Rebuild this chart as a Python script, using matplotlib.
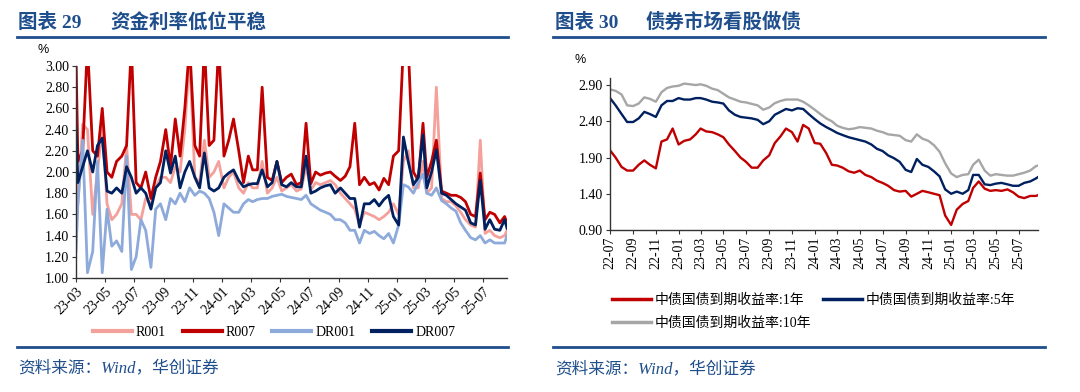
import numpy as np
import pandas as pd
import matplotlib
matplotlib.use("Agg")
import matplotlib.pyplot as plt
import matplotlib.dates as mdates
from matplotlib.lines import Line2D

# ---------------- left chart: money market rates ----------------
left_dates = ["2023-03-01"]
for ym in pd.period_range("2023-03", "2025-07", freq="M"):
    for d in (5, 15, 25):
        left_dates.append(f"{ym}-{d:02d}")
left_dates += ["2025-08-05", "2025-08-15", "2025-08-20"]
left_dates = pd.to_datetime(left_dates)

r007 = [3.10,
        2.10, 2.20, 3.20, 2.20, 2.15, 2.60, 2.00, 1.95, 2.10, 2.15, 2.25, 3.20,
        1.90, 1.85, 2.00, 1.75, 1.95, 2.10, 2.40, 2.05, 2.50, 2.15, 2.60, 3.20,
        2.25, 2.15, 3.20, 2.25, 2.30, 3.20, 2.15, 2.30, 2.50, 2.20, 1.90, 2.15,
        2.02, 2.02, 2.80, 1.95, 1.92, 2.10, 1.90, 1.95, 1.98, 1.88, 1.90, 2.46,
        1.89, 2.00, 1.97, 1.99, 2.00, 1.96, 1.92, 1.96, 2.05, 2.46, 1.88, 1.95,
        1.88, 1.90, 1.83, 1.94, 1.88, 2.15, 2.20, 3.20, 3.20, 2.00, 1.92, 2.46,
        1.95, 2.10, 2.30, 1.82, 1.80, 1.78, 1.78, 1.76, 1.72, 1.60, 1.58, 1.99,
        1.55, 1.62, 1.60, 1.52, 1.58, 1.52]
r001 = [2.00,
        1.70, 2.45, 2.40, 1.60, 2.00, 2.45, 1.70, 1.55, 1.60, 1.70, 2.25, 1.60,
        1.60, 1.55, 1.75, 1.70, 1.85, 1.95, 1.95, 1.90, 2.05, 2.00, 2.40, 3.10,
        1.95, 1.90, 2.30, 1.95, 2.00, 2.10, 1.85, 1.95, 2.00, 1.85, 1.80, 1.90,
        1.85, 1.85, 2.10, 1.80, 1.85, 1.95, 1.82, 1.85, 1.88, 1.82, 1.84, 2.05,
        1.83, 1.90, 1.88, 1.90, 1.92, 1.88, 1.80, 1.75, 1.70, 1.65, 1.50, 1.62,
        1.60, 1.58, 1.55, 1.58, 1.62, 1.70, 1.60, 2.10, 2.20, 1.85, 1.85, 2.10,
        1.80, 1.85, 2.80, 1.75, 1.72, 1.72, 1.68, 1.62, 1.55, 1.50, 1.48, 2.30,
        1.42, 1.45, 1.40, 1.38, 1.40, 1.45]
dr001 = [1.25,
         1.70, 2.30, 1.05, 1.25, 2.10, 1.05, 1.65, 1.30, 1.35, 1.25, 2.15, 1.08,
         1.20, 1.55, 1.45, 1.10, 1.65, 1.70, 1.55, 1.75, 1.70, 1.80, 1.72, 1.85,
         1.78, 1.82, 1.80, 1.75, 1.62, 1.40, 1.70, 1.66, 1.62, 1.62, 1.70, 1.74,
         1.72, 1.74, 1.75, 1.75, 1.77, 1.78, 1.79, 1.77, 1.76, 1.75, 1.74, 1.78,
         1.70, 1.67, 1.64, 1.62, 1.60, 1.55, 1.55, 1.52, 1.45, 1.45, 1.33, 1.45,
         1.42, 1.44, 1.40, 1.37, 1.42, 1.33, 1.50, 1.88, 1.86, 1.80, 1.90, 1.98,
         1.80, 1.78, 1.85, 1.73, 1.70, 1.66, 1.63, 1.52, 1.45, 1.38, 1.36, 1.40,
         1.33, 1.36, 1.33, 1.33, 1.33, 1.40]
dr007 = [2.42,
         1.90, 2.05, 2.20, 2.00, 2.25, 2.32, 1.82, 1.80, 1.85, 1.80, 2.05, 1.95,
         1.80, 1.85, 1.80, 1.65, 1.85, 1.90, 2.20, 1.99, 2.15, 1.85, 2.00, 2.10,
         1.95, 1.85, 2.18, 1.85, 1.82, 1.85, 1.95, 1.99, 2.02, 1.92, 1.86, 1.88,
         1.89, 1.89, 2.02, 1.86, 1.90, 2.10, 1.88, 1.86, 1.90, 1.86, 1.86, 2.15,
         1.80, 1.82, 1.85, 1.87, 1.88, 1.80, 1.85, 1.80, 1.75, 1.75, 1.48, 1.70,
         1.70, 1.74, 1.68, 1.74, 1.78, 1.58, 1.50, 2.33, 2.10, 1.88, 1.95, 2.35,
         1.85, 2.00, 2.21, 1.80, 1.78, 1.74, 1.70, 1.67, 1.64, 1.52, 1.50, 1.92,
         1.46, 1.55, 1.46, 1.45, 1.55, 1.47]

# ---------------- right chart: treasury yields ----------------
right_dates = []
for ym in pd.period_range("2022-07", "2025-08", freq="M"):
    for d in (1, 16):
        right_dates.append(f"{ym}-{d:02d}")
right_dates.append("2025-08-22")
right_dates = pd.to_datetime(right_dates)

y1 = [2.00, 1.90, 1.77, 1.72, 1.72, 1.80, 1.86, 1.80, 1.75, 2.12,
      2.15, 2.30, 2.08, 2.13, 2.15, 2.22, 2.30, 2.26, 2.25, 2.22,
      2.18, 2.08, 1.99, 1.90, 1.84, 1.76, 1.76, 1.86, 1.93, 2.10,
      2.19, 2.30, 2.25, 2.12, 2.35, 2.30, 2.10, 2.09, 1.96, 1.80,
      1.79, 1.76, 1.71, 1.69, 1.72, 1.66, 1.63, 1.58, 1.55, 1.51,
      1.45, 1.43, 1.44, 1.36, 1.40, 1.44, 1.42, 1.40, 1.38, 1.10,
      0.97, 1.18, 1.26, 1.30, 1.48, 1.57, 1.47, 1.44, 1.45, 1.44,
      1.46, 1.42, 1.36, 1.34, 1.37, 1.37, 1.38]
y5 = [2.72, 2.62, 2.50, 2.39, 2.39, 2.44, 2.53, 2.50, 2.46, 2.62,
      2.68, 2.68, 2.72, 2.70, 2.70, 2.72, 2.72, 2.70, 2.67, 2.66,
      2.645, 2.55, 2.49, 2.46, 2.45, 2.44, 2.42, 2.36, 2.40, 2.49,
      2.53, 2.57, 2.55, 2.58, 2.57, 2.50, 2.43, 2.37, 2.32, 2.28,
      2.24, 2.21, 2.18, 2.16, 2.14, 2.12, 2.08, 2.02, 1.99, 1.93,
      1.89, 1.84, 1.73, 1.70, 1.88, 1.80, 1.77, 1.71, 1.64, 1.46,
      1.40, 1.43, 1.40, 1.45, 1.66, 1.66, 1.53, 1.52, 1.54, 1.55,
      1.53, 1.51, 1.51, 1.55, 1.57, 1.61, 1.63]
y10 = [2.84, 2.82, 2.77, 2.62, 2.61, 2.645, 2.73, 2.71, 2.67, 2.80,
       2.86, 2.88, 2.89, 2.92, 2.91, 2.90, 2.91, 2.89, 2.85, 2.83,
       2.78, 2.73, 2.70, 2.67, 2.66, 2.64, 2.62, 2.56, 2.59, 2.65,
       2.68, 2.70, 2.70, 2.70, 2.67, 2.62, 2.56, 2.50, 2.44, 2.40,
       2.34, 2.31, 2.29, 2.30, 2.32, 2.31, 2.30, 2.27, 2.25, 2.22,
       2.21, 2.20, 2.14, 2.12, 2.22, 2.16, 2.13, 2.07, 1.98, 1.82,
       1.68, 1.63, 1.66, 1.67, 1.80, 1.87, 1.72, 1.65, 1.67, 1.66,
       1.65, 1.65, 1.67, 1.69, 1.72, 1.78, 1.79]

left_labels = ["R001", "R007", "DR001", "DR007"]
right_labels = ["中债国债到期收益率:1年", "中债国债到期收益率:5年", "中债国债到期收益率:10年"]

BLUE = "#1F4E8C"
SERIF = ["Liberation Serif", "Noto Sans CJK SC"]
CJK = ["Noto Sans CJK SC", "DejaVu Sans"]

fig = plt.figure(figsize=(10.8, 3.92), dpi=100)

# ---- left axes
ax1 = fig.add_axes([76 / 1080, 1 - 278 / 392, 431 / 1080, 212 / 392])
ax1.plot(left_dates, r001, color="#F4A19C", lw=2.0, label=left_labels[0])
ax1.plot(left_dates, r007, color="#C00000", lw=2.0, label=left_labels[1])
ax1.plot(left_dates, dr001, color="#8EAADB", lw=2.0, label=left_labels[2])
ax1.plot(left_dates, dr007, color="#002060", lw=2.0, label=left_labels[3])
ax1.set_ylim(1.0, 3.0)
ax1.set_yticks(np.arange(1.0, 3.01, 0.2))
ax1.yaxis.set_major_formatter(matplotlib.ticker.FormatStrFormatter("%.2f"))
ax1.set_xlim(pd.Timestamp("2023-03-01"), pd.Timestamp("2025-08-20"))
ax1.set_xticks(pd.date_range("2023-03-01", "2025-07-01", freq="2MS"))
ax1.xaxis.set_major_formatter(mdates.DateFormatter("%y-%m"))
for lab in ax1.get_xticklabels():
    lab.set_rotation(45)
    lab.set_ha("right")
    lab.set_va("top")
    lab.set_rotation_mode("anchor")

# ---- right axes
ax2 = fig.add_axes([610 / 1080, 1 - 230 / 392, 428 / 1080, 152.2 / 392])
l1, = ax2.plot(right_dates, y1, color="#C00000", lw=1.7, label=right_labels[0])
l5, = ax2.plot(right_dates, y5, color="#002060", lw=1.7, label=right_labels[1])
l10, = ax2.plot(right_dates, y10, color="#A6A6A6", lw=1.7, label=right_labels[2])
ax2.set_ylim(0.9, 3.0)
ax2.set_yticks([0.9, 1.4, 1.9, 2.4, 2.9])
ax2.yaxis.set_major_formatter(matplotlib.ticker.FormatStrFormatter("%.2f"))
ax2.set_xlim(pd.Timestamp("2022-07-01"), pd.Timestamp("2025-08-22"))
ax2.set_xticks(pd.date_range("2022-07-01", "2025-07-01", freq="2MS"))
ax2.xaxis.set_major_formatter(mdates.DateFormatter("%y-%m"))
for lab in ax2.get_xticklabels():
    lab.set_rotation(90)
    lab.set_ha("center")
    lab.set_va("top")

for ax in (ax1, ax2):
    for s in ("top", "right"):
        ax.spines[s].set_visible(False)
    for s in ("left", "bottom"):
        ax.spines[s].set_color("#333333")
        ax.spines[s].set_linewidth(1.0)
    ax.tick_params(direction="out", length=3, width=0.8, color="#333333",
                   labelsize=10, pad=2)
    for lab in ax.get_xticklabels() + ax.get_yticklabels():
        lab.set_family("Liberation Serif")

# ---- legends
leg1 = fig.legend(*ax1.get_legend_handles_labels(), loc="center",
                  bbox_to_anchor=(274 / 1080, 1 - 332 / 392), ncol=4,
                  frameon=False, handlelength=2.8, handletextpad=0.3,
                  columnspacing=1.2, prop={"family": "Liberation Serif", "size": 10})
for h in leg1.get_lines():
    h.set_linewidth(3)

# column-major fill: order so rows read 1Y, 5Y / 10Y
leg2 = fig.legend([l1, l10, l5], [right_labels[0], right_labels[2], right_labels[1]],
                  loc="upper left", bbox_to_anchor=(605 / 1080, 1 - 287 / 392),
                  ncol=2, frameon=False, handlelength=2.8, handletextpad=0.3,
                  columnspacing=0.8, labelspacing=0.7, borderpad=0,
                  prop={"family": SERIF, "size": 10})
for h in leg2.get_lines():
    h.set_linewidth(2.5)

# ---- titles, rules, percent signs, sources
fig.text(18 / 1080, 1 - 22 / 392, "图表 29", family=SERIF, weight="bold",
         size=14, color=BLUE, va="center")
fig.text(110 / 1080, 1 - 22 / 392, "资金利率低位平稳", family=CJK, weight="bold",
         size=14, color=BLUE, va="center")
fig.text(555 / 1080, 1 - 22 / 392, "图表 30", family=SERIF, weight="bold",
         size=14, color=BLUE, va="center")
fig.text(646 / 1080, 1 - 22 / 392, "债券市场看股做债", family=CJK, weight="bold",
         size=14, color=BLUE, va="center")

for x0, x1 in ((17, 508), (553, 1045)):
    for yy in (37, 347):
        fig.add_artist(Line2D([x0 / 1080, x1 / 1080], [1 - yy / 392, 1 - yy / 392],
                              transform=fig.transFigure, color=BLUE, lw=2))

fig.text(43 / 1080, 1 - 50 / 392, "%", family="Liberation Sans", size=9,
         ha="center", va="center")
fig.text(580 / 1080, 1 - 60 / 392, "%", family="Liberation Sans", size=9,
         ha="center", va="center")

fig.text(18 / 1080, 1 - 368 / 392, "资料来源：Wind，华创证券", family=SERIF,
         style="italic", size=12, color=BLUE, va="center")
fig.text(555 / 1080, 1 - 369 / 392, "资料来源：Wind，华创证券", family=SERIF,
         style="italic", size=12, color=BLUE, va="center")

fig.savefig("out.png", dpi=100)
